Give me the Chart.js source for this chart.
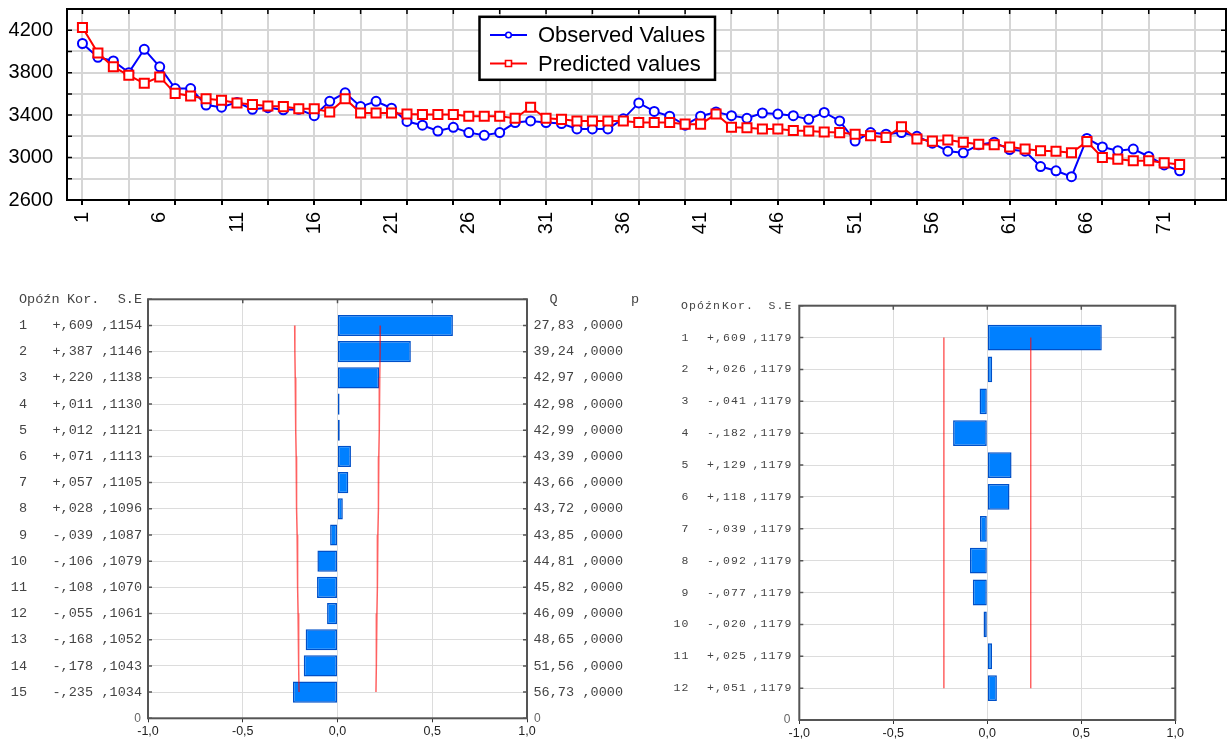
<!DOCTYPE html>
<html>
<head>
<meta charset="utf-8">
<script src="https://cdn.jsdelivr.net/npm/chart.js@4.4.0/dist/chart.umd.min.js"></script>
<style>
  body { margin: 0; background: #fff; width: 1227px; height: 740px; overflow: hidden; position: relative; }
  canvas { position: absolute; }
</style>
</head>
<body>
<canvas id="series" width="1227" height="250" style="left:0;top:0"></canvas>
<canvas id="acf" width="660" height="455" style="left:0;top:285px"></canvas>
<canvas id="pacf" width="567" height="455" style="left:660px;top:285px"></canvas>
<script>
// ---- top chart data ----
const observed = [4075, 3945, 3910, 3800, 4020, 3855, 3650, 3650, 3495, 3475,
  3520, 3455, 3470, 3450, 3455, 3395, 3530, 3610, 3480, 3530,
  3465, 3340, 3305, 3250, 3285, 3235, 3210, 3235, 3330, 3345,
  3330, 3320, 3270, 3270, 3270, 3365, 3515, 3435, 3390, 3305,
  3390, 3430, 3395, 3370, 3420, 3410, 3395, 3360, 3425, 3345,
  3155, 3235, 3220, 3235, 3200, 3135, 3060, 3045, 3120, 3145,
  3075, 3060, 2915, 2875, 2820, 3180, 3100, 3065, 3080, 3010,
  2930, 2875];
const predicted = [4225, 3985, 3855, 3775, 3700, 3760, 3605, 3580, 3555, 3540,
  3515, 3500, 3485, 3480, 3460, 3460, 3430, 3555, 3420, 3420,
  3420, 3410, 3405, 3405, 3405, 3390, 3390, 3390, 3370, 3475,
  3370, 3360, 3345, 3345, 3345, 3345, 3330, 3330, 3330, 3315,
  3315, 3410, 3285, 3280, 3270, 3270, 3255, 3250, 3240, 3235,
  3220, 3205, 3190, 3290, 3175, 3155, 3165, 3145, 3125, 3120,
  3100, 3080, 3065, 3060, 3045, 3150, 3000, 2985, 2970, 2970,
  2950, 2935];
const xGridTicks = [1, 4, 7, 10, 13, 16, 19, 22, 25, 28, 31, 34, 37, 40, 43, 46, 49, 52, 55, 58, 61, 64, 67, 70, 73];
const xLabelTicks = [1, 6, 11, 16, 21, 26, 31, 36, 41, 46, 51, 56, 61, 66, 71];
const yLabelTicks = [2600, 3000, 3400, 3800, 4200];

// ---- autocorrelation (left) ----
const lagsL = [1, 2, 3, 4, 5, 6, 7, 8, 9, 10, 11, 12, 13, 14, 15];
const corrL = [0.609, 0.387, 0.220, 0.011, 0.012, 0.071, 0.057, 0.028, -0.039, -0.106, -0.108, -0.055, -0.168, -0.178, -0.235];
const seL = [0.1154, 0.1146, 0.1138, 0.1130, 0.1121, 0.1113, 0.1105, 0.1096, 0.1087, 0.1079, 0.1070, 0.1061, 0.1052, 0.1043, 0.1034];
const qL = [27.83, 39.24, 42.97, 42.98, 42.99, 43.39, 43.66, 43.72, 43.85, 44.81, 45.82, 46.09, 48.65, 51.56, 56.73];
const pL = [0, 0, 0, 0, 0, 0, 0, 0, 0, 0, 0, 0, 0, 0, 0];
const limitL = [0.226, 0.225, 0.223, 0.221, 0.220, 0.218, 0.217, 0.215, 0.213, 0.211, 0.210, 0.208, 0.206, 0.204, 0.203];

// ---- partial autocorrelation (right) ----
const lagsR = [1, 2, 3, 4, 5, 6, 7, 8, 9, 10, 11, 12];
const corrR = [0.609, 0.026, -0.041, -0.182, 0.129, 0.118, -0.039, -0.092, -0.077, -0.020, 0.025, 0.051];
const seR = [0.1179, 0.1179, 0.1179, 0.1179, 0.1179, 0.1179, 0.1179, 0.1179, 0.1179, 0.1179, 0.1179, 0.1179];
const limitR = [0.231, 0.231, 0.231, 0.231, 0.231, 0.231, 0.231, 0.231, 0.231, 0.231, 0.231, 0.231];

const corrTicks = [-1, -0.5, 0, 0.5, 1];

const SANS = '"Liberation Sans", Arial, sans-serif';
const MONO = '"Liberation Mono", "Courier New", monospace';

const fmtCorr = v => (v < 0 ? '-' : '+') + ',' + String(Math.round(Math.abs(v) * 1000)).padStart(3, '0');
const fmtSE = v => ',' + String(Math.round(v * 10000)).padStart(4, '0');
const fmtQ = v => v.toFixed(2).replace('.', ',');
const fmtDec = v => v.toFixed(1).replace('.', ',');

// no label overflow padding, the boxes are sized by hand
const noPad = s => { s.paddingTop = 0; s.paddingBottom = 0; s.paddingLeft = 0; s.paddingRight = 0; };

// frame around the plot area with small inward ticks
function framePlugin(color, width, opts) {
  return {
    id: 'frame',
    afterDraw(chart) {
      const { ctx, chartArea: a } = chart;
      ctx.save();
      ctx.strokeStyle = color;
      ctx.lineWidth = width;
      ctx.strokeRect(a.left, a.top, a.right - a.left, a.bottom - a.top);
      ctx.lineWidth = 1.5;
      ctx.beginPath();
      const len = opts.len;
      if (opts.yTicks) {
        chart.scales.y.ticks.forEach((t, i) => {
          const y = chart.scales.y.getPixelForTick(i);
          ctx.moveTo(a.left, y); ctx.lineTo(a.left + len, y);
          ctx.moveTo(a.right, y); ctx.lineTo(a.right - len, y);
        });
      }
      opts.xTop.forEach(v => {
        const x = chart.scales.x.getPixelForValue(v);
        ctx.moveTo(x, a.top); ctx.lineTo(x, a.top + len);
      });
      ctx.stroke();
      ctx.restore();
    }
  };
}

// ---------------- top: observed vs predicted ----------------
const legendPlugin = {
  id: 'boxLegend',
  afterDraw(chart) {
    const ctx = chart.ctx;
    ctx.save();
    ctx.fillStyle = '#fff';
    ctx.fillRect(479, 17, 236, 63);
    ctx.lineWidth = 2.5;
    ctx.strokeStyle = '#000';
    ctx.strokeRect(479.5, 16.8, 235.5, 63);
    const rows = [chart.data.datasets[1], chart.data.datasets[0]];
    rows.forEach((ds, i) => {
      const y = 35 + i * 28.5;
      ctx.strokeStyle = ds.borderColor;
      ctx.lineWidth = 2;
      ctx.beginPath(); ctx.moveTo(490, y); ctx.lineTo(527, y); ctx.stroke();
      ctx.fillStyle = '#fff';
      ctx.lineWidth = 1.6;
      ctx.beginPath();
      if (ds.pointStyle === 'rect') ctx.rect(505.5, y - 3, 6, 6);
      else ctx.arc(508.5, y, 2.8, 0, Math.PI * 2);
      ctx.fill(); ctx.stroke();
      ctx.fillStyle = '#000';
      ctx.font = '22px ' + SANS;
      ctx.textBaseline = 'middle';
      ctx.fillText(ds.label, 538, y + 1);
    });
    ctx.restore();
  }
};

const xTicks = [...new Set([...xGridTicks, ...xLabelTicks])].sort((a, b) => a - b);

new Chart(document.getElementById('series'), {
  type: 'line',
  data: {
    datasets: [{
      label: 'Predicted values',
      data: predicted.map((v, i) => ({ x: i + 1, y: v })),
      borderColor: '#ff0000',
      backgroundColor: '#ffffff',
      borderWidth: 2,
      pointStyle: 'rect',
      pointRadius: 6.4,
      pointBorderWidth: 2,
      tension: 0,
      order: 0
    }, {
      label: 'Observed Values',
      data: observed.map((v, i) => ({ x: i + 1, y: v })),
      borderColor: '#0000ff',
      backgroundColor: '#ffffff',
      borderWidth: 2,
      pointStyle: 'circle',
      pointRadius: 4.5,
      pointBorderWidth: 2,
      tension: 0,
      order: 1
    }]
  },
  options: {
    responsive: false,
    animation: false,
    layout: { autoPadding: false, padding: { top: 9, right: 1, left: 0, bottom: 0 } },
    plugins: { legend: { display: false }, tooltip: { enabled: false } },
    scales: {
      x: {
        type: 'linear', min: 0, max: 75,
        afterBuildTicks: s => { s.ticks = xTicks.map(v => ({ value: v })); },
        afterFit: s => { s.height = 50; noPad(s); },
        border: { display: false },
        grid: {
          color: c => (c.tick && xGridTicks.includes(c.tick.value)) ? '#d6d6d6' : 'rgba(0,0,0,0)',
          tickColor: c => (c.tick && xGridTicks.includes(c.tick.value)) ? '#000' : 'rgba(0,0,0,0)',
          lineWidth: 2,
          tickLength: 5
        },
        ticks: {
          autoSkip: false, minRotation: 90, maxRotation: 90, padding: 7,
          color: '#000', font: { family: SANS, size: 20 },
          callback: v => xLabelTicks.includes(v) ? String(v) : ''
        }
      },
      y: {
        min: 2600, max: 4400,
        afterFit: s => { s.width = 67; noPad(s); },
        border: { display: false },
        grid: { color: '#d6d6d6', lineWidth: 2, drawTicks: false },
        ticks: {
          stepSize: 200, autoSkip: false, padding: 14,
          color: '#000', font: { family: SANS, size: 20 },
          callback: v => yLabelTicks.includes(v) ? String(v) : ''
        }
      }
    }
  },
  plugins: [framePlugin('#000', 2, { len: 5, yTicks: true, xTop: xGridTicks }), legendPlugin]
});

// ---------------- bottom: correlograms ----------------
function tablePlugin(items, spacing) {
  return {
    id: 'table',
    afterDraw(chart) {
      const { ctx } = chart;
      const ys = chart.scales.y;
      ctx.save();
      ctx.letterSpacing = spacing;
      ctx.textBaseline = 'middle';
      items.forEach(it => {
        ctx.font = it.font;
        ctx.fillStyle = it.color;
        ctx.textAlign = it.align;
        ctx.fillText(it.text, it.x, ys.getPixelForValue(it.row));
      });
      ctx.restore();
    }
  };
}

function correlogram(id, lags, corr, limit, sizes, items, spacing) {
  const rows = ['', ...lags.map(String), ''];
  const pad = v => [null, ...v, null];
  new Chart(document.getElementById(id), {
    type: 'bar',
    data: {
      labels: rows,
      datasets: [{
        type: 'line',
        data: pad(limit.map(v => -v)),
        borderColor: 'rgba(255,0,0,0.62)',
        borderWidth: 1.5,
        pointRadius: 0,
        fill: false
      }, {
        type: 'line',
        data: pad(limit),
        borderColor: 'rgba(255,0,0,0.62)',
        borderWidth: 1.5,
        pointRadius: 0,
        fill: false
      }, {
        data: pad(corr),
        backgroundColor: '#0080ff',
        borderColor: '#0050c8',
        borderWidth: 1.5,
        borderSkipped: false,
        barPercentage: 1,
        categoryPercentage: 0.81
      }]
    },
    options: {
      indexAxis: 'y',
      responsive: false,
      animation: false,
      layout: { autoPadding: false, padding: { top: sizes.top, right: sizes.right, left: 0, bottom: 0 } },
      plugins: { legend: { display: false }, tooltip: { enabled: false } },
      scales: {
        x: {
          type: 'linear', min: -1, max: 1,
          afterBuildTicks: s => { s.ticks = corrTicks.map(v => ({ value: v })); },
          afterFit: s => { s.height = sizes.bottom; noPad(s); },
          border: { display: false },
          grid: { color: '#dcdcdc', lineWidth: 1, tickColor: '#333', tickLength: 4 },
          ticks: { padding: 2, color: '#222', font: { family: SANS, size: 12.5 }, callback: v => fmtDec(v) }
        },
        y: {
          type: 'category', offset: false,
          afterFit: s => { s.width = sizes.left; noPad(s); },
          border: { display: false },
          grid: { color: '#dcdcdc', lineWidth: 1, drawTicks: false, offset: false },
          ticks: { display: false }
        }
      }
    },
    plugins: [framePlugin('#555', 2, { len: 4, yTicks: true, xTop: [-0.5, 0, 0.5] }), tablePlugin(items, spacing)]
  });
}

// left table text
const monoL = '13.5px ' + MONO;
const zeroFont = '12px ' + SANS;
const ink = '#444';
const itemsL = [
  { text: 'Opóźn', x: 19, align: 'left', row: 0, font: monoL, color: ink },
  { text: 'Kor.', x: 67, align: 'left', row: 0, font: monoL, color: ink },
  { text: 'S.E', x: 142, align: 'right', row: 0, font: monoL, color: ink },
  { text: 'Q', x: 553.5, align: 'center', row: 0, font: monoL, color: ink },
  { text: 'p', x: 635, align: 'center', row: 0, font: monoL, color: ink },
  { text: '0', x: 141, align: 'right', row: lagsL.length + 1, font: zeroFont, color: '#666' },
  { text: '0', x: 534, align: 'left', row: lagsL.length + 1, font: zeroFont, color: '#666' }
];
lagsL.forEach((lag, i) => {
  const r = i + 1;
  itemsL.push({ text: String(lag), x: 27, align: 'right', row: r, font: monoL, color: ink });
  itemsL.push({ text: fmtCorr(corrL[i]), x: 93, align: 'right', row: r, font: monoL, color: ink });
  itemsL.push({ text: fmtSE(seL[i]), x: 142, align: 'right', row: r, font: monoL, color: ink });
  itemsL.push({ text: fmtQ(qL[i]), x: 574, align: 'right', row: r, font: monoL, color: ink });
  itemsL.push({ text: fmtSE(pL[i]), x: 623, align: 'right', row: r, font: monoL, color: ink });
});

// right table text
const monoR = '11.5px ' + MONO;
const itemsR = [
  { text: 'Opóźn', x: 21, align: 'left', row: 0, font: monoR, color: ink },
  { text: 'Kor.', x: 62, align: 'left', row: 0, font: monoR, color: ink },
  { text: 'S.E', x: 132.5, align: 'right', row: 0, font: monoR, color: ink },
  { text: '0', x: 131.5, align: 'right', row: lagsR.length + 1, font: zeroFont, color: '#666' }
];
lagsR.forEach((lag, i) => {
  const r = i + 1;
  itemsR.push({ text: String(lag), x: 29.5, align: 'right', row: r, font: monoR, color: ink });
  itemsR.push({ text: fmtCorr(corrR[i]), x: 47, align: 'left', row: r, font: monoR, color: ink });
  itemsR.push({ text: fmtSE(seR[i]), x: 132.5, align: 'right', row: r, font: monoR, color: ink });
});

correlogram('acf', lagsL, corrL, limitL, { top: 14.3, right: 133, left: 148, bottom: 21.7 }, itemsL, '0px');
correlogram('pacf', lagsR, corrR, limitR, { top: 20.7, right: 51.7, left: 139.3, bottom: 20 }, itemsR, '1.1px');
</script>
</body>
</html>
